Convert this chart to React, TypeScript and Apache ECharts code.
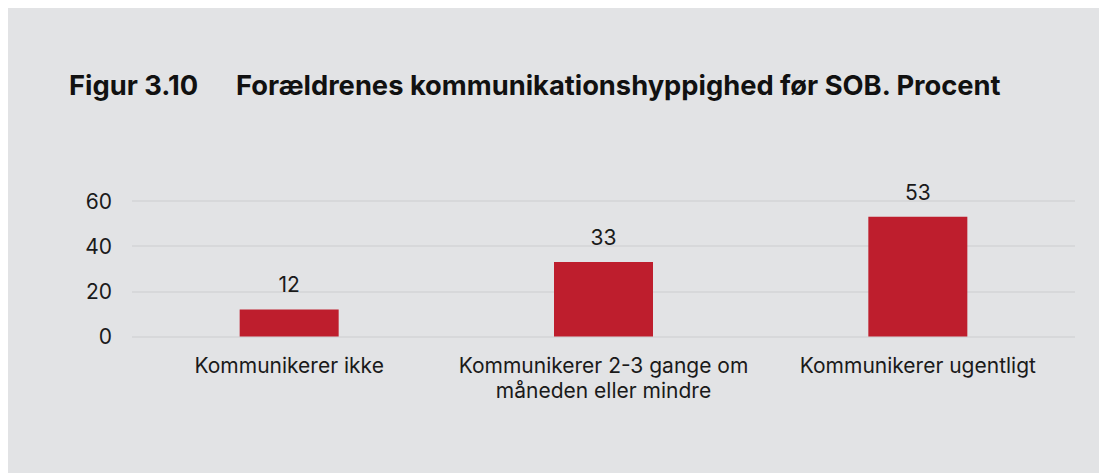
import React, { useEffect, useRef } from "react";
import * as echarts from "echarts";

const categories = [
  "Kommunikerer ikke",
  "Kommunikerer 2-3 gange om\nmåneden eller mindre",
  "Kommunikerer ugentligt",
];
const values = [12, 33, 53];
const yTicks = [0, 20, 40, 60];
const titleNumber = "Figur 3.10";
const titleText = "Forældrenes kommunikationshyppighed før SOB. Procent";

const FONT = "Inter, 'Noto Sans', sans-serif";

export default function App() {
  const ref = useRef<HTMLDivElement>(null);
  useEffect(() => {
    if (!ref.current) return;
    const chart = echarts.init(ref.current, undefined, { renderer: "svg" });
    chart.setOption({
      animation: false,
      backgroundColor: "#e2e3e5",
      textStyle: { fontFamily: FONT },
      title: [
        {
          text: titleNumber,
          left: 56,
          top: 59,
          textStyle: { fontFamily: FONT, fontSize: 27.3, fontWeight: "bold", color: "#111" },
        },
        {
          text: titleText,
          left: 223,
          top: 59,
          textStyle: { fontFamily: FONT, fontSize: 27.3, fontWeight: "bold", color: "#111" },
        },
      ],
      grid: { left: 124, right: 32, top: 193, bottom: 136.5 },
      xAxis: {
        type: "category",
        data: categories,
        axisLine: { show: false },
        axisTick: { show: false },
        axisLabel: {
          fontFamily: FONT,
          fontSize: 21,
          color: "#1a1a1a",
          margin: 16,
          lineHeight: 25,
          interval: 0,
        },
      },
      yAxis: {
        type: "value",
        min: yTicks[0],
        max: yTicks[yTicks.length - 1],
        interval: 20,
        axisLine: { show: false },
        axisTick: { show: false },
        axisLabel: { fontFamily: FONT, fontSize: 21, color: "#1a1a1a", margin: 20 },
        splitLine: { lineStyle: { color: "#d3d4d6", width: 1.5 } },
      },
      series: [
        {
          type: "bar",
          data: values,
          barWidth: 99,
          itemStyle: { color: "#be1e2d" },
          label: {
            show: true,
            position: "top",
            distance: 14,
            fontFamily: FONT,
            fontSize: 21,
            color: "#1a1a1a",
          },
        },
      ],
    });
    return () => chart.dispose();
  }, []);
  return <div ref={ref} style={{ width: 1099, height: 465 }} />;
}
